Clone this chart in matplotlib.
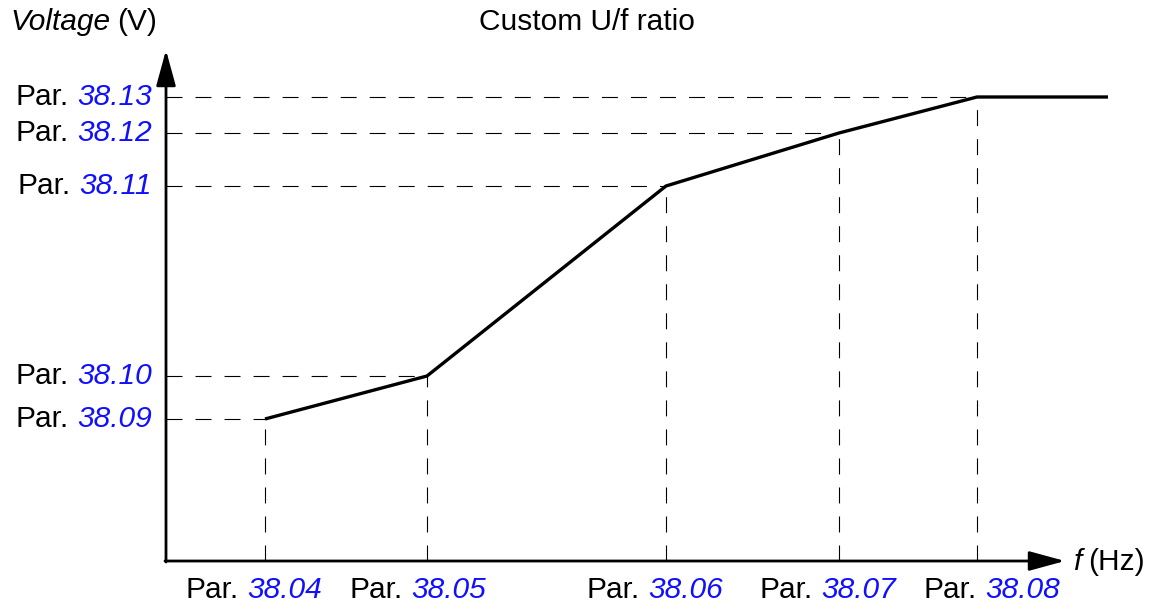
import matplotlib.pyplot as plt

plt.rcParams['font.family'] = ['Liberation Sans', 'DejaVu Sans']
plt.rcParams['lines.scale_dashes'] = False

# break points of the custom U/f curve (frequency pars on x, voltage pars on y)
freq_pars = ['38.04', '38.05', '38.06', '38.07', '38.08']
freq_pts = [99, 261, 500, 673, 811]
volt_pars = ['38.09', '38.10', '38.11', '38.12', '38.13']
volt_pts = [142, 185, 375, 428, 464]
f_end = 942

BLUE = '#1010ff'
FS = 21.5

fig = plt.figure(figsize=(11.58, 6.05), dpi=100)
ax = fig.add_axes([0, 0, 1, 1])
ax.set_xlim(-166, 992)
ax.set_ylim(-44, 561)
ax.axis('off')

# guide lines from the axes to every break point
dash = (0, (11.5, 9.4))
for f, v in zip(freq_pts, volt_pts):
    ax.plot([0, f], [v, v], color='black', lw=0.8, ls=dash)
    ax.plot([f, f], [0, v], color='black', lw=0.8, ls=dash)

# the curve itself, flat after the last point
ax.plot(freq_pts + [f_end], volt_pts + [volt_pts[-1]], color='black', lw=2.4,
        solid_capstyle='butt')

# axes with arrow heads
arrow = dict(arrowstyle='-|>,head_length=1.1,head_width=0.3', lw=2, color='black',
             shrinkA=0, shrinkB=0, mutation_scale=20)
ax.annotate('', xy=(0, 511), xytext=(0, -1), arrowprops=arrow)
ax.annotate('', xy=(899, 0), xytext=(-1, 0), arrowprops=arrow)

fig.canvas.draw()
renderer = fig.canvas.get_renderer()


def width(t):
    return t.get_window_extent(renderer).width


# voltage labels, right-aligned next to the y axis
for par, v in zip(volt_pars, volt_pts):
    num = ax.text(-14, v, par, color=BLUE, style='italic', ha='right', va='center', fontsize=FS)
    ax.text(-14 - width(num) - 9, v, 'Par.', ha='right', va='center', fontsize=FS)

# frequency labels under the x axis, pushed right when they would touch
prev_right = -1e9
for par, f in zip(freq_pars, freq_pts):
    p = ax.text(0, -29, 'Par.', ha='left', va='center', fontsize=FS)
    num = ax.text(0, -29, par, color=BLUE, style='italic', ha='left', va='center', fontsize=FS)
    wp, wn = width(p), width(num)
    total = wp + 9 + wn
    left = max(f - 11 - total / 2, prev_right + 27)
    p.set_x(left)
    num.set_x(left + wp + 9)
    prev_right = left + total

# titles and axis names
ax.text(421, 539, 'Custom U/f ratio', ha='center', va='center', fontsize=FS)
vt = ax.text(-156, 539, 'Voltage', style='italic', ha='left', va='center', fontsize=FS)
ax.text(-156 + width(vt) + 7, 539, '(V)', ha='left', va='center', fontsize=FS)
ft = ax.text(908, -1, 'f', style='italic', ha='left', va='center', fontsize=FS)
ax.text(908 + width(ft) + 6, -1, '(Hz)', ha='left', va='center', fontsize=FS)

fig.savefig('out.png', dpi=100)
